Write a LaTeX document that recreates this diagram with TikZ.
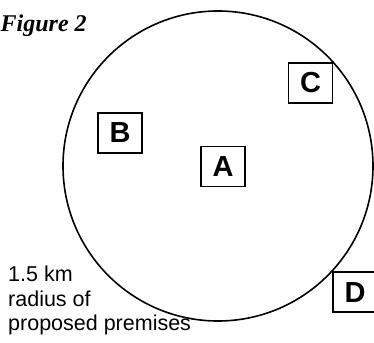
\documentclass[tikz,border=0pt]{standalone}
\usepackage{fontspec}
\setmainfont{Liberation Serif}
\newfontfamily\arialish{Liberation Sans}
\begin{document}
\begin{tikzpicture}[x=1pt,y=-1pt,
  ring/.style={draw, circle, line width=1.6pt, minimum size=310pt, inner sep=0pt},
  site/.style={draw, line width=1.3pt, minimum width=44pt, minimum height=40pt,
    inner sep=0pt, font=\arialish\bfseries\fontsize{29}{29}\selectfont},
  caption/.style={font=\bfseries\itshape\fontsize{24}{24}\selectfont, inner sep=0pt},
  note/.style={font=\arialish\fontsize{21.5}{24.5}\selectfont, align=left, inner sep=0pt}]
  \useasboundingbox (0,0) rectangle (374,342);
  \clip (0,0) rectangle (374,342);
  % 1.5 km catchment ring round the proposed premises
  \node[ring] (ring) at (218,166) {};
  % surrounding sites
  \node[site] (boxA) at (223,166.5) {A};
  \node[site] (boxB) at (120,133) {B};
  \node[site] (boxC) at (310.5,83) {C};
  \node[site, minimum width=50pt, fill=white] (boxD) at (358,292) {};
  \node[font=\arialish\bfseries\fontsize{29}{29}\selectfont] (labD) at (355,293) {D};
  % heading and ring note
  \node[caption, anchor=base west] (fig) at (0.5,32) {Figure 2};
  \node[note, anchor=north west] (note) at (8,266) {1.5 km\\radius of\\proposed premises};
\end{tikzpicture}
\end{document}
